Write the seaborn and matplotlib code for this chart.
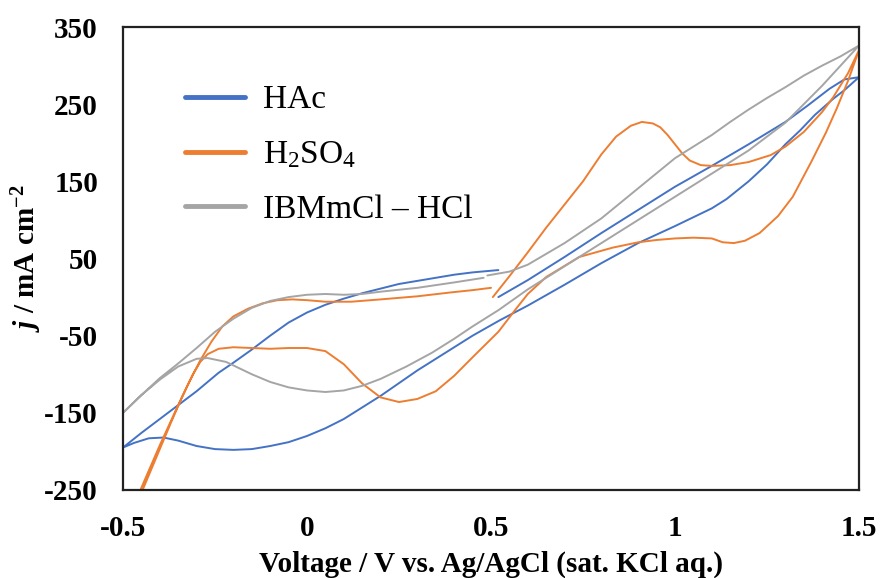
import numpy as np
import pandas as pd
import matplotlib
matplotlib.use("Agg")
import matplotlib.pyplot as plt
import seaborn as sns

# ---------------- data ----------------
hac_v = [0.52, 0.6, 0.7, 0.8, 0.9, 1.0, 1.1, 1.2, 1.3, 1.36, 1.42, 1.46, 1.5,
         1.46, 1.43, 1.38, 1.34, 1.3, 1.25, 1.2, 1.14, 1.1, 1.0, 0.9, 0.8, 0.7, 0.6, 0.524,
         0.45, 0.4, 0.3, 0.2, 0.1, 0.05, 0.0, -0.05, -0.1, -0.15, -0.2, -0.25, -0.3, -0.35,
         -0.39, -0.43, -0.47, -0.5,
         -0.45, -0.4, -0.35, -0.3, -0.24, -0.2, -0.15, -0.1, -0.05, 0.0, 0.05, 0.1, 0.15,
         0.2, 0.25, 0.3, 0.35, 0.4, 0.45, 0.52]
hac_j = [0, 22, 52, 83, 113, 143, 170, 198, 227, 248, 270, 282, 285,
         268, 257, 236, 216, 198, 172, 150, 127, 115, 92, 70, 44, 16, -11, -30,
         -50, -65, -95, -128, -158, -170, -180, -188, -193, -197, -198, -197, -193, -186,
         -182, -183, -189, -195,
         -176, -158, -140, -122, -98, -85, -68, -50, -33, -20, -10, -2, 5,
         11, 17, 21, 25, 29, 32, 35]

h2so4_v = [0.505, 0.55, 0.6, 0.65, 0.7, 0.75, 0.8, 0.84, 0.88, 0.91, 0.94, 0.96, 0.98,
           1.0, 1.02, 1.04, 1.07, 1.1, 1.15, 1.2, 1.26, 1.3, 1.35, 1.4, 1.43, 1.47, 1.5,
           1.47, 1.44, 1.41, 1.37, 1.32, 1.28, 1.23, 1.19, 1.16, 1.13, 1.1, 1.05, 1.0, 0.95,
           0.9, 0.83, 0.74, 0.65, 0.6, 0.57, 0.52, 0.45, 0.4, 0.35, 0.3, 0.25, 0.2, 0.15,
           0.1, 0.05, 0.0, -0.05, -0.1, -0.15, -0.2, -0.24, -0.27, -0.29, -0.31, -0.34,
           -0.37, -0.4, -0.43, -0.46, -0.5,
           -0.45, -0.4, -0.35, -0.32, -0.29, -0.26, -0.23, -0.2, -0.16, -0.12, -0.08,
           -0.04, 0.0, 0.05, 0.12, 0.2, 0.25, 0.3, 0.39, 0.45, 0.5]
h2so4_j = [0, 27, 58, 90, 120, 150, 185, 208, 222, 227, 225, 220, 210,
           198, 186, 177, 171, 170, 171, 175, 184, 195, 214, 240, 259, 290, 320,
           280, 245, 213, 175, 130, 105, 83, 73, 70, 71, 76, 77, 76, 74,
           71, 64, 52, 26, 4, -14, -45, -78, -102, -122, -132, -136, -130, -112,
           -87, -70, -66, -66, -67, -66, -65, -67, -74, -84, -100, -130,
           -163, -197, -231, -265, -305,
           -247, -192, -140, -110, -82, -58, -38, -25, -15, -8, -4,
           -3, -4, -6, -6, -3, -1, 1, 6, 9, 12]

ibm_v = [0.49, 0.55, 0.6, 0.7, 0.8, 0.9, 1.0, 1.05, 1.1, 1.15, 1.2, 1.25, 1.3, 1.35,
         1.4, 1.45, 1.5,
         1.45, 1.4, 1.35, 1.3, 1.2, 1.1, 1.0, 0.9, 0.8, 0.7, 0.6, 0.52, 0.45, 0.4, 0.34,
         0.27, 0.2, 0.15, 0.1, 0.05, 0.0, -0.05, -0.1, -0.15, -0.22, -0.27, -0.3, -0.35,
         -0.4, -0.45, -0.5,
         -0.45, -0.4, -0.35, -0.3, -0.25, -0.2, -0.15, -0.1, -0.05, 0.0, 0.05, 0.1, 0.15,
         0.2, 0.3, 0.4, 0.48]
ibm_j = [28, 33, 42, 70, 102, 141, 180, 195, 210, 227, 243, 258, 272, 287,
         300, 312, 326,
         300, 274, 250, 226, 190, 160, 130, 100, 70, 40, 10, -17, -38, -54, -72,
         -90, -106, -115, -121, -123, -121, -117, -110, -100, -84, -79, -80, -90,
         -107, -127, -150,
         -127, -105, -86, -66, -45, -28, -14, -5, 0, 3, 4, 3, 4,
         7, 12, 19, 25]

series_names = ["HAc", "H$_2$SO$_4$", "IBMmCl – HCl"]
series_colors = ["#4472C4", "#ED7D31", "#A5A5A5"]

xticks = [-0.5, 0, 0.5, 1, 1.5]
xtick_labels = ["-0.5", "0", "0.5", "1", "1.5"]
yticks = [-250, -150, -50, 50, 150, 250, 350]
ytick_labels = ["-250", "-150", "-50", "50", "150", "250", "350"]

# ---------------- build frame ----------------
frames = []
for name, v, j in zip(series_names, [hac_v, h2so4_v, ibm_v], [hac_j, h2so4_j, ibm_j]):
    frames.append(pd.DataFrame({"V": v, "j": j, "series": name}))
df = pd.concat(frames, ignore_index=True)

# ---------------- style ----------------
sns.set_style("white")
plt.rcParams["font.family"] = ["Liberation Serif", "DejaVu Serif"]
plt.rcParams["axes.unicode_minus"] = False
plt.rcParams["text.color"] = "black"
plt.rcParams["axes.labelcolor"] = "black"
plt.rcParams["xtick.color"] = "black"
plt.rcParams["ytick.color"] = "black"
plt.rcParams["mathtext.fontset"] = "custom"
plt.rcParams["mathtext.rm"] = "Liberation Serif"
plt.rcParams["mathtext.it"] = "Liberation Serif:italic"
plt.rcParams["mathtext.bf"] = "Liberation Serif:bold"
try:
    plt.rcParams["mathtext.bfit"] = "Liberation Serif:bold:italic"
    ylab = r"$\mathbfit{j}$ / mA cm$^{\mathbf{-2}}$"
except KeyError:
    ylab = r"$j$ / mA cm$^{\mathbf{-2}}$"

fig = plt.figure(figsize=(8.8, 5.78), dpi=100)
ax = fig.add_axes([123 / 880, 1 - 490 / 578, (859 - 123) / 880, (490 - 27) / 578])

sns.lineplot(data=df, x="V", y="j", hue="series", hue_order=series_names,
             palette=series_colors, sort=False, estimator=None, units="series",
             linewidth=1.4, ax=ax)

ax.set_xlim(-0.5, 1.5)
ax.set_ylim(-250, 350)
ax.set_xticks(xticks, labels=xtick_labels, fontweight="bold", fontsize=21, color="black")
ax.set_yticks(yticks, labels=ytick_labels, fontweight="bold", fontsize=21, color="black")
ax.tick_params(axis="x", length=0, pad=18)
ax.tick_params(axis="y", length=0, pad=18)

for sp in ax.spines.values():
    sp.set_visible(True)
    sp.set_color("#222222")
    sp.set_linewidth(1.6)

ax.set_xlabel("Voltage / V vs. Ag/AgCl (sat. KCl aq.)", fontsize=21,
              fontweight="bold", labelpad=6, color="black")
ax.set_ylabel(ylab, fontsize=21, fontweight="bold", labelpad=0, color="black")

handles, labels = ax.get_legend_handles_labels()
leg = ax.legend(handles, labels, loc="upper left", bbox_to_anchor=(0.084, 0.875),
                frameon=False, borderpad=0, borderaxespad=0, fontsize=24,
                handlelength=1.8, handletextpad=0.55, labelspacing=0.72)
for ln in leg.get_lines():
    ln.set_linewidth(3.5)
for t in leg.get_texts():
    t.set_color("black")

fig.savefig("out.png", dpi=100)
